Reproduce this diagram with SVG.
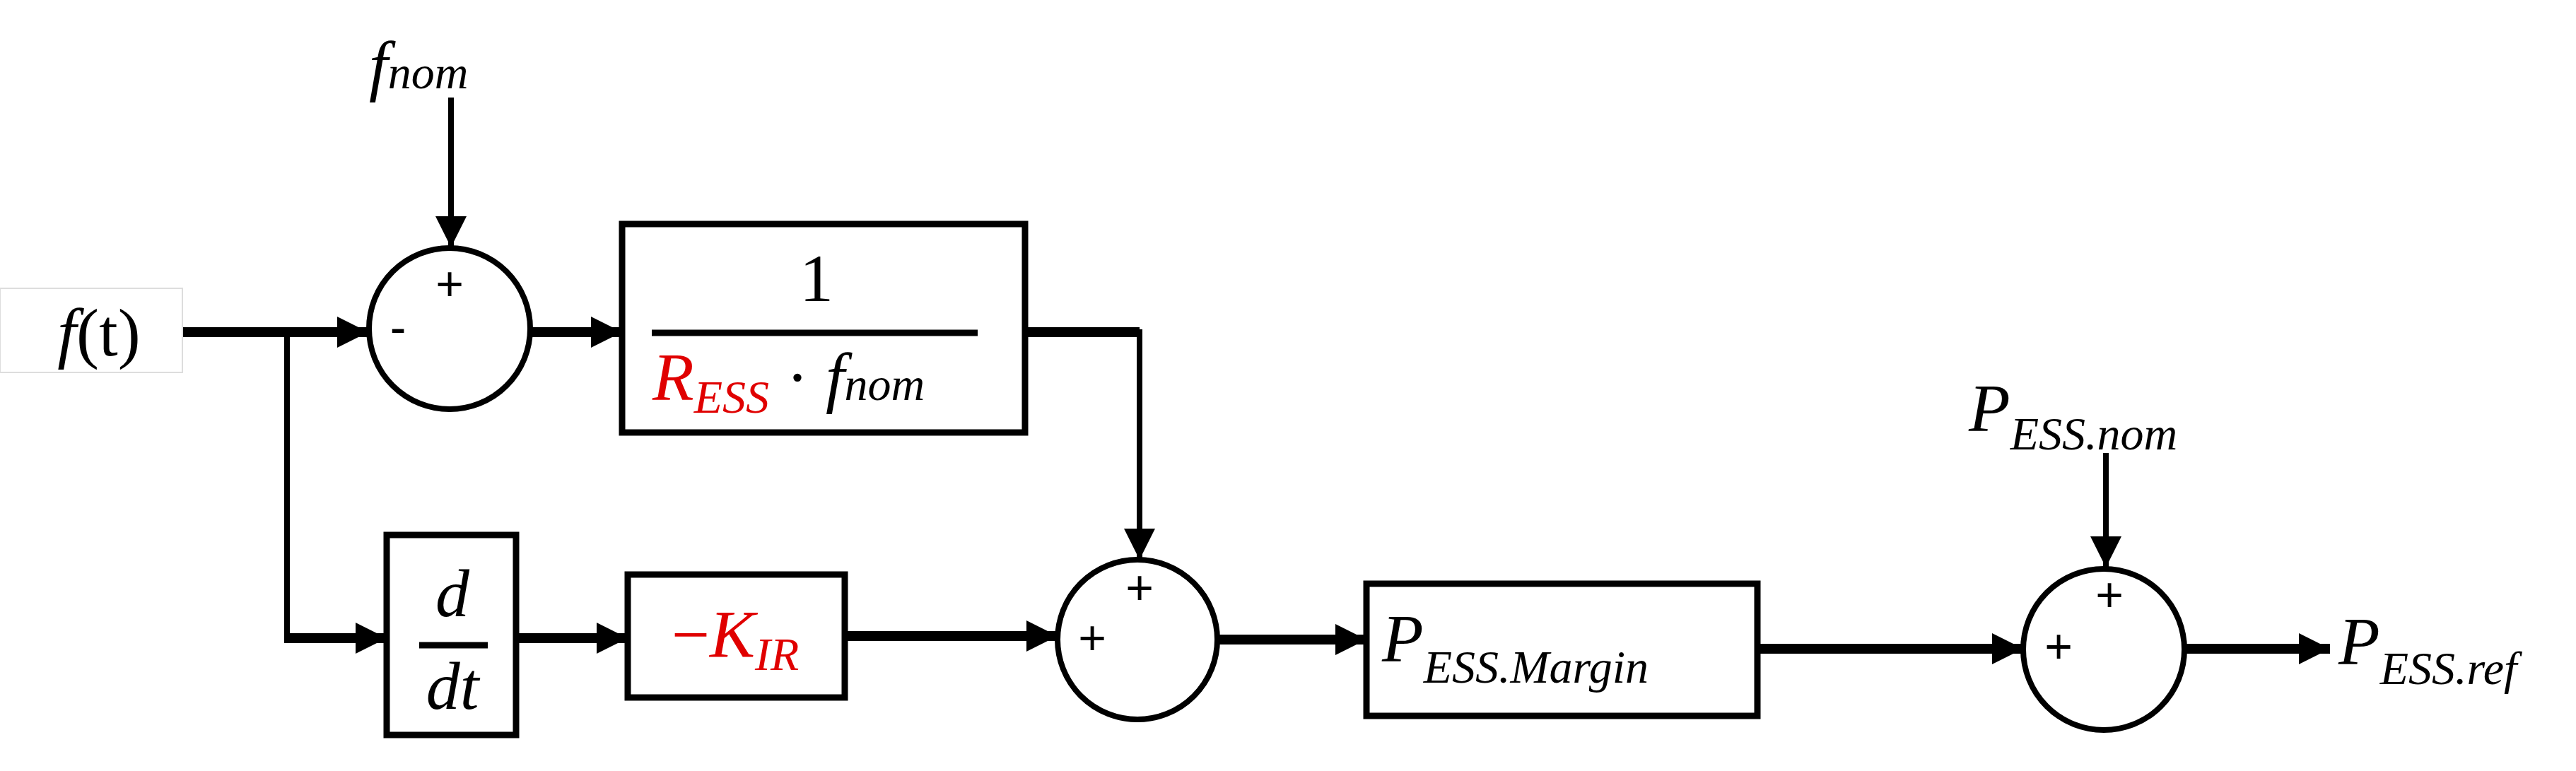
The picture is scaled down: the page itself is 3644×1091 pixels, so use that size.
<svg xmlns="http://www.w3.org/2000/svg" width="3644" height="1091" viewBox="0 0 3644 1091">
<style>
.m{font-family:"Liberation Serif","DejaVu Serif",serif;font-style:italic;font-size:96px;fill:#000}
.s{font-size:66px}
.u{font-style:normal}
.r{fill:#e00000}
.sg{font-family:"Liberation Sans",sans-serif;font-size:68px;fill:#000}
.blk{fill:#fff;stroke:#000;stroke-width:9}
.sum{fill:#fff;stroke:#000;stroke-width:8}
.th{stroke:#000;stroke-width:14;fill:none}
.tn{stroke:#000;stroke-width:8;fill:none}
</style>
<defs>
<marker id="a" viewBox="0 0 10 10" refX="10" refY="5" markerWidth="44" markerHeight="50" markerUnits="userSpaceOnUse" orient="auto"><path d="M0,0L10,5L0,10z" fill="#000"/></marker>
</defs>
<rect width="3644" height="1091" fill="#fff"/>
<g id="connectors">
<path class="th" d="M258,470H521" marker-end="url(#a)"/>
<path class="tn" d="M406,470V903"/>
<path class="th" d="M402,903H547" marker-end="url(#a)"/>
<path class="tn" d="M638,138V350" marker-end="url(#a)"/>
<path class="th" d="M751,470H880" marker-end="url(#a)"/>
<path class="th" d="M1450,470H1612"/>
<path class="tn" d="M1612,466V792" marker-end="url(#a)"/>
<path class="th" d="M730,903H888" marker-end="url(#a)"/>
<path class="th" d="M1195,900H1496" marker-end="url(#a)"/>
<path class="th" d="M1722,905H1933" marker-end="url(#a)"/>
<path class="th" d="M2486,918H2862" marker-end="url(#a)"/>
<path class="tn" d="M2979,641V803" marker-end="url(#a)"/>
<path class="th" d="M3090,918H3296" marker-end="url(#a)"/>
</g>
<g id="ft"><rect x="0" y="408" width="258" height="119" fill="#fff" stroke="#ddd" stroke-width="2"/><text class="m" x="140" y="503" text-anchor="middle">f<tspan class="u">(t)</tspan></text></g>
<g id="fnom"><text class="m" x="522" y="125">f<tspan class="s">nom</tspan></text></g>
<g id="sum1"><circle class="sum" cx="636" cy="465" r="114"/><text class="sg" x="636" y="425" text-anchor="middle">+</text><text class="sg" x="563" y="487" text-anchor="middle">-</text></g>
<g id="gain1"><rect class="blk" x="880" y="317" width="570" height="295"/><text class="m u" x="1155" y="426" text-anchor="middle">1</text><line x1="922" y1="471" x2="1383" y2="471" stroke="#000" stroke-width="9"/><text class="m" x="923" y="566"><tspan class="r">R</tspan><tspan class="s r" dy="18">ESS</tspan><tspan class="u" dy="-18"> · </tspan>f<tspan class="s">nom</tspan></text></g>
<g id="ddt"><rect class="blk" x="547" y="757" width="183" height="283"/><text class="m" x="640" y="872" text-anchor="middle">d</text><line x1="593" y1="913" x2="690" y2="913" stroke="#000" stroke-width="9"/><text class="m" x="640" y="1003" text-anchor="middle">dt</text></g>
<g id="kir"><rect class="blk" x="888" y="813" width="307" height="174"/><text class="m r" x="1040" y="930" text-anchor="middle"><tspan class="u">−</tspan>K<tspan class="s" dy="18">IR</tspan></text></g>
<g id="sum2"><circle class="sum" cx="1609" cy="905" r="113"/><text class="sg" x="1612" y="855" text-anchor="middle">+</text><text class="sg" x="1545" y="926" text-anchor="middle">+</text></g>
<g id="margin"><rect class="blk" x="1933" y="826" width="553" height="187"/><text class="m" x="1955" y="936">P<tspan class="s" dy="30">ESS.Margin</tspan></text></g>
<g id="pnom"><text class="m" x="2785" y="610">P<tspan class="s" dy="26">ESS.nom</tspan></text></g>
<g id="sum3"><circle class="sum" cx="2976" cy="919" r="114"/><text class="sg" x="2984" y="865" text-anchor="middle">+</text><text class="sg" x="2912" y="938" text-anchor="middle">+</text></g>
<g id="pref"><text class="m" x="3308" y="940">P<tspan class="s" dy="28">ESS.ref</tspan></text></g>
</svg>
